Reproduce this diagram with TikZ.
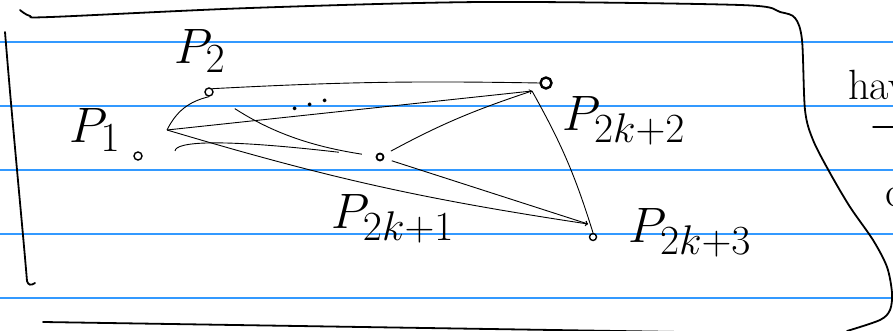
\documentclass[tikz,border=0pt]{standalone}
\usepackage{amsmath,amssymb}
\usepackage{xcolor}
\usepackage{tikz}
\usetikzlibrary{arrows, positioning}
\definecolor{ruleblue}{RGB}{51,153,255}

\begin{document}
\begin{tikzpicture}[
    x=1pt, y=1pt,
    dot/.style={circle, draw, line width=1.4pt, inner sep=0pt, minimum size=8pt},
    lbl/.style={font=\Huge, scale=2},
    note/.style={font=\Huge, scale=1.7, anchor=base west, inner sep=0pt},
    edge/.style={line width=0.9pt},
    arrow/.style={->, line width=0.9pt},
    frame/.style={line width=1.8pt, line cap=round},
    rule/.style={ruleblue, line width=1.2pt}
]
    \useasboundingbox (0,0) rectangle (893,331);
    \clip (0,0) rectangle (893,331);
    \foreach \y in {33,97,161,225,289}
        \draw [rule] (0,\y) -- (893,\y);

    \draw [frame] plot [smooth, tension=0.5] coordinates {(20,321) (30,315) (51,314) (250,323) (484,329) (740,326) (780,319) (795,313) (802,291) (805,221) (813,191) (830,158) (850,124) (873,91) (887,64) (892,38) (890,21) (880,11) (847,0)};
    \draw [frame] (5,299) .. controls (13,200) and (22,110) .. (27,50) .. controls (28,46) and (31,45) .. (35,48);
    \draw [frame] (43,9) -- (680,-1);

    \node [dot] (p1) at (138,175) {};
    \node [dot] (p2) at (209,239) {};
    \node [dot, line width=1.8pt, minimum size=7pt] (pa) at (380,174) {};
    \node [dot, line width=2.4pt, minimum size=11pt] (pb) at (546,248) {};
    \node [dot, minimum size=7pt] (pc) at (593,94) {};

    \node [lbl] (l1) at (95,201) {$P_1$};
    \node [lbl] (l2) at (200,280) {$P_2$};
    \node [lbl] (la) at (393,112) {$P_{2k+1}$};
    \node [lbl] (lb) at (624,210) {$P_{2k+2}$};
    \node [lbl] (lc) at (690,98) {$P_{2k+3}$};
    \node [rotate=14, font=\Huge, scale=1.4] (dots) at (313,226) {$\cdots$};

    \coordinate (j1) at (167,201);
    \coordinate (j2) at (532,240);
    \coordinate (j3) at (588,107);
    \coordinate (k1) at (175,180);

    \draw [edge] (p2.north east) to[bend left=2] (pb.west);
    \draw [edge] (j1) -- (j2);
    \draw [edge] (j1) to[bend left=25] (p2.south);
    \draw [edge, shorten <=26pt, shorten >=14pt] (p2) to[bend right=12] (pa);
    \draw [edge, shorten >=37pt] (k1) .. controls (176,189) and (215,193) .. (pa);
    \draw [arrow] (j1) to[bend right=4] (j3);
    \draw [arrow, shorten <=8pt] (pa) to[bend left=5] (j2);
    \draw [arrow, shorten <=8pt] (pa) -- (j3);
    \draw [edge] (j2) to[bend left=6] (pc.north);

    \node [note] (hav) at (848,231) {hav};
    \draw [frame, line width=1.4pt] (873,204) -- (895,204);
    \node [note] (c) at (885,124) {c};
\end{tikzpicture}
\end{document}
